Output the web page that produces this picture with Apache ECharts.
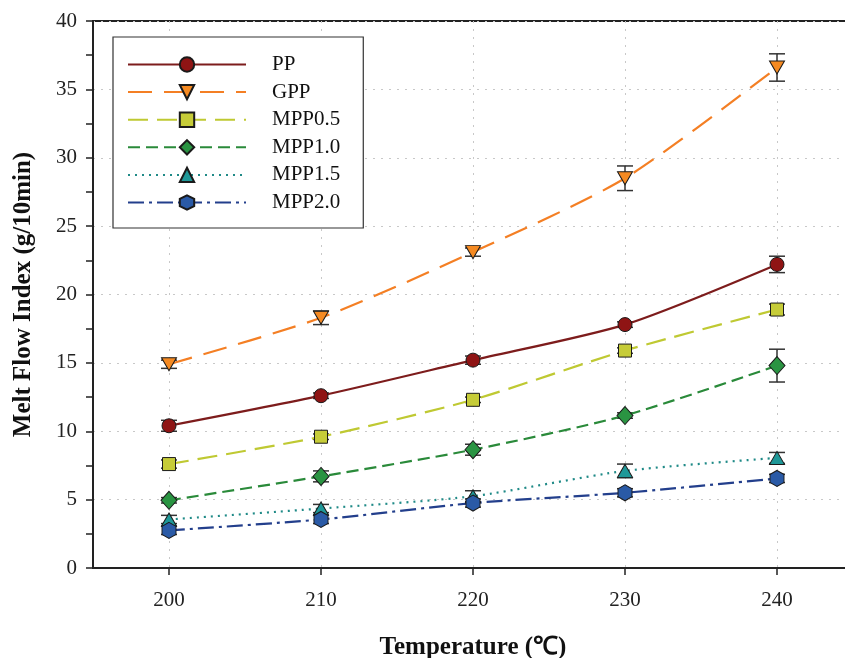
<!DOCTYPE html>
<html>
<head>
<meta charset="utf-8">
<script src="https://cdn.jsdelivr.net/npm/echarts@6/dist/echarts.min.js"></script>
<style>html,body{margin:0;padding:0;background:#fff;}#chart{width:845px;height:658px;}</style>
</head>
<body>
<div id="chart"></div>
<script>
const temperatures = [200, 210, 220, 230, 240];
const yTicks = [0, 5, 10, 15, 20, 25, 30, 35, 40];
const seriesNames = ['PP', 'GPP', 'MPP0.5', 'MPP1.0', 'MPP1.5', 'MPP2.0'];
const pp = [10.4, 12.6, 15.2, 17.8, 22.2];
const ppErr = [0.4, 0.2, 0.3, 0.2, 0.6];
const gpp = [14.9, 18.3, 23.1, 28.5, 36.6];
const gppErr = [0.3, 0.5, 0.3, 0.9, 1.0];
const mpp05 = [7.6, 9.6, 12.3, 15.9, 18.9];
const mpp05Err = [0.3, 0.2, 0.2, 0.2, 0.4];
const mpp10 = [4.95, 6.7, 8.65, 11.15, 14.8];
const mpp10Err = [0.2, 0.4, 0.4, 0.2, 1.2];
const mpp15 = [3.55, 4.35, 5.25, 7.1, 8.05];
const mpp15Err = [0.3, 0.3, 0.4, 0.5, 0.4];
const mpp20 = [2.75, 3.55, 4.75, 5.5, 6.55];
const mpp20Err = [0.3, 0.3, 0.3, 0.3, 0.3];

const values = [pp, gpp, mpp05, mpp10, mpp15, mpp20];
const errors = [ppErr, gppErr, mpp05Err, mpp10Err, mpp15Err, mpp20Err];

const styles = [
  {line: '#7d1c1c', fill: '#8f1414', dash: 'solid', symbol: 'circle', size: 14},
  {line: '#f47f24', fill: '#f58a22', dash: [24, 12], symbol: 'path://M0,0 L10,0 L5,8.66 Z', size: [15, 13]},
  {line: '#bfc932', fill: '#c6cc38', dash: [20, 9], symbol: 'rect', size: 13},
  {line: '#2a8a3a', fill: '#2a9442', dash: [12, 6], symbol: 'diamond', size: [16, 18]},
  {line: '#1f8a87', fill: '#1f9898', dash: [2, 5], symbol: 'triangle', size: [15, 13]},
  {line: '#233f8c', fill: '#2a5aa6', dash: [16, 5, 3, 5], symbol: 'path://M0,-10 L8.66,-5 L8.66,5 L0,10 L-8.66,5 L-8.66,-5 Z', size: [14, 16]}
];

const serifFont = '"Liberation Serif", "Times New Roman", serif';

const series = [];
seriesNames.forEach(function (name, i) {
  series.push({
    name: name + ' err',
    type: 'custom',
    z: 1,
    silent: true,
    data: temperatures.map(function (t, j) { return [t, values[i][j] - errors[i][j], values[i][j] + errors[i][j]]; }),
    encode: {x: 0, y: [1, 2]},
    renderItem: function (params, api) {
      const x = api.value(0), lo = api.value(1), hi = api.value(2);
      const p1 = api.coord([x, hi]);
      const p2 = api.coord([x, lo]);
      const w = 8;
      const st = {stroke: '#333', lineWidth: 1.5};
      return {
        type: 'group',
        children: [
          {type: 'line', shape: {x1: p1[0], y1: p1[1], x2: p2[0], y2: p2[1]}, style: st},
          {type: 'line', shape: {x1: p1[0] - w, y1: p1[1], x2: p1[0] + w, y2: p1[1]}, style: st},
          {type: 'line', shape: {x1: p2[0] - w, y1: p2[1], x2: p2[0] + w, y2: p2[1]}, style: st}
        ]
      };
    }
  });
});
seriesNames.forEach(function (name, i) {
  const s = styles[i];
  series.push({
    name: name,
    type: 'line',
    z: 3,
    smooth: 0.25,
    data: temperatures.map(function (t, j) { return [t, values[i][j]]; }),
    symbol: s.symbol,
    symbolSize: s.size,
    showAllSymbol: true,
    lineStyle: {color: s.line, width: 2.2, type: s.dash},
    itemStyle: {color: s.fill, borderColor: '#1a1a1a', borderWidth: 1},
    emphasis: {disabled: true}
  });
});

const chart = echarts.init(document.getElementById('chart'), null, {renderer: 'canvas'});
chart.setOption({
  animation: false,
  backgroundColor: '#fff',
  grid: {left: 93, top: 21, width: 760, height: 547, show: true, borderColor: '#222', borderWidth: 2, backgroundColor: 'transparent', containLabel: false, outerBoundsMode: 'none'},
  legend: {
    data: seriesNames,
    orient: 'vertical',
    left: 113,
    top: 37,
    padding: [17, 23, 15, 14],
    itemWidth: 118,
    itemHeight: 18,
    itemGap: 6.6,
    backgroundColor: '#fff',
    borderColor: '#333',
    borderWidth: 1.2,
    borderRadius: 0,
    textStyle: {fontFamily: serifFont, fontSize: 21, color: '#111', padding: [0, 0, 0, 21], lineHeight: 18}
  },
  xAxis: {
    type: 'value',
    min: 195,
    max: 245,
    name: 'Temperature (℃)',
    nameLocation: 'middle',
    nameGap: 67,
    nameTextStyle: {fontFamily: serifFont, fontSize: 25, fontWeight: 'bold', color: '#111'},
    axisLine: {show: true, lineStyle: {color: '#222', width: 2}},
    axisTick: {show: true, inside: false, length: 7, lineStyle: {color: '#222', width: 1.5}, customValues: temperatures},
    axisLabel: {fontFamily: serifFont, fontSize: 21, color: '#222', margin: 22, customValues: temperatures},
    splitLine: {show: true, lineStyle: {color: '#c8c8c8', type: [2, 6], width: 1}}
  },
  yAxis: {
    type: 'value',
    min: 0,
    max: 40,
    interval: 5,
    name: 'Melt Flow Index (g/10min)',
    nameLocation: 'middle',
    nameGap: 57,
    nameTextStyle: {fontFamily: serifFont, fontSize: 25, fontWeight: 'bold', color: '#111'},
    axisLine: {show: true, lineStyle: {color: '#222', width: 2}},
    axisTick: {show: true, inside: false, length: 7, lineStyle: {color: '#222', width: 1.5}},
    minorTick: {show: true, splitNumber: 2, length: 7, lineStyle: {color: '#222', width: 1.5}},
    axisLabel: {fontFamily: serifFont, fontSize: 21, color: '#222', margin: 16},
    splitLine: {show: true, lineStyle: {color: '#c8c8c8', type: [2, 6], width: 1}}
  },
  series: series
});
</script>
</body>
</html>
